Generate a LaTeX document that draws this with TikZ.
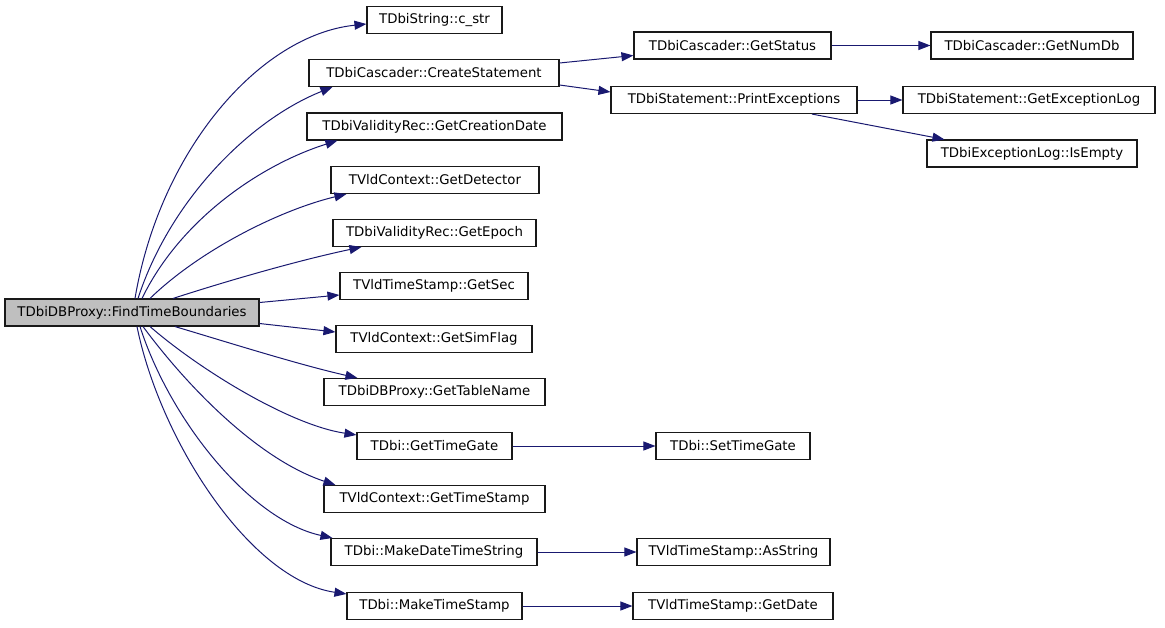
\documentclass[tikz,border=0pt]{standalone}
\usepackage{fontspec}
\setmainfont{DejaVu Sans}
\usetikzlibrary{arrows.meta,calc}
\definecolor{edgeblue}{HTML}{191970}
\definecolor{mainfill}{HTML}{BFBFBF}
\begin{document}
\begin{tikzpicture}[x=1pt,y=-1pt,
  fn/.style={draw=black!90,line width=1.1pt,fill=white,inner sep=0pt,minimum height=27pt,
    font=\fontsize{13.3}{16}\selectfont,text=black},
  call/.style={draw=edgeblue,line width=1pt,-{Triangle[length=12pt,width=9pt]},color=edgeblue}]
\useasboundingbox (0,0) rectangle (1165,627);
% nodes
\node[fn,fill=mainfill,minimum width=254pt] (main) at (132,312.5) {TDbiDBProxy::FindTimeBoundaries};
\node[fn,minimum width=135pt] (cstr) at (434.5,20) {TDbiString::c\_str};
\node[fn,minimum width=250pt] (create) at (434,73) {TDbiCascader::CreateStatement};
\node[fn,minimum width=255pt] (creation) at (434.5,126.5) {TDbiValidityRec::GetCreationDate};
\node[fn,minimum width=208pt] (detector) at (435,180) {TVldContext::GetDetector};
\node[fn,minimum width=203pt] (epoch) at (434.5,233) {TDbiValidityRec::GetEpoch};
\node[fn,minimum width=188pt] (getsec) at (434,286) {TVldTimeStamp::GetSec};
\node[fn,minimum width=196pt] (simflag) at (434,339) {TVldContext::GetSimFlag};
\node[fn,minimum width=221pt] (tablename) at (434.5,392) {TDbiDBProxy::GetTableName};
\node[fn,minimum width=155pt] (timegate) at (434.5,446) {TDbi::GetTimeGate};
\node[fn,minimum width=221pt] (timestamp) at (434.5,499) {TVldContext::GetTimeStamp};
\node[fn,minimum width=206pt] (mkdts) at (434,552) {TDbi::MakeDateTimeString};
\node[fn,minimum width=175pt] (mkts) at (434.5,606) {TDbi::MakeTimeStamp};
\node[fn,minimum width=197pt] (getstatus) at (732.5,45.5) {TDbiCascader::GetStatus};
\node[fn,minimum width=246pt] (printexc) at (734,100) {TDbiStatement::PrintExceptions};
\node[fn,minimum width=202pt] (getnumdb) at (1032,45.5) {TDbiCascader::GetNumDb};
\node[fn,minimum width=252pt] (getexclog) at (1029,100) {TDbiStatement::GetExceptionLog};
\node[fn,minimum width=210pt] (isempty) at (1032,153.5) {TDbiExceptionLog::IsEmpty};
\node[fn,minimum width=154pt] (settimegate) at (733,446) {TDbi::SetTimeGate};
\node[fn,minimum width=193pt] (asstring) at (733.5,552) {TVldTimeStamp::AsString};
\node[fn,minimum width=200pt] (getdate) at (733,606) {TVldTimeStamp::GetDate};
% edges from main, upper side
\draw[call] ([xshift=3pt]main.north) .. controls (160,150) and (260,35) .. ([yshift=-4pt]cstr.west);
\draw[call] ([xshift=6pt]main.north) .. controls (170,200) and (250,120) .. ([xshift=24pt]create.south west);
\draw[call] ([xshift=10pt]main.north) .. controls (180,220) and (260,165) .. ([xshift=31pt]creation.south west);
\draw[call] ([xshift=18pt]main.north) .. controls (200,250) and (280,210) .. ([xshift=16pt]detector.south west);
\draw[call] ([xshift=41pt]main.north) .. controls (230,280) and (300,260) .. ([xshift=29pt]epoch.south west);
\draw[call] ([yshift=10pt]main.east) -- ([yshift=-9pt]getsec.west);
% lower side
\draw[call] ([yshift=-11pt]main.east) -- ([yshift=7pt]simflag.west);
\draw[call] ([xshift=43pt]main.south) .. controls (230,343) and (300,365) .. ([xshift=34pt]tablename.north west);
\draw[call] ([xshift=18pt]main.south) .. controls (200,370) and (290,425) .. ([yshift=-3pt]timegate.north west);
\draw[call] ([xshift=11pt]main.south) .. controls (190,390) and (260,460) .. ([xshift=12pt]timestamp.north west);
\draw[call] ([xshift=8pt]main.south) .. controls (170,420) and (250,520) .. ([xshift=2pt]mkdts.north west);
\draw[call] ([xshift=5pt]main.south) .. controls (160,440) and (250,580) .. ([yshift=-2pt]mkts.north west);
% right side
\draw[call] ([yshift=10pt]create.east) -- ([yshift=-10pt]getstatus.west);
\draw[call] ([yshift=-12pt]create.east) -- ([yshift=8pt]printexc.west);
\draw[call] (getstatus) -- (getnumdb);
\draw[call] (printexc) -- (getexclog);
\draw[call] ([xshift=78pt]printexc.south) -- ([xshift=18pt]isempty.north west);
\draw[call] (timegate) -- (settimegate);
\draw[call] (mkdts) -- (asstring);
\draw[call] (mkts) -- (getdate);
\end{tikzpicture}
\end{document}
